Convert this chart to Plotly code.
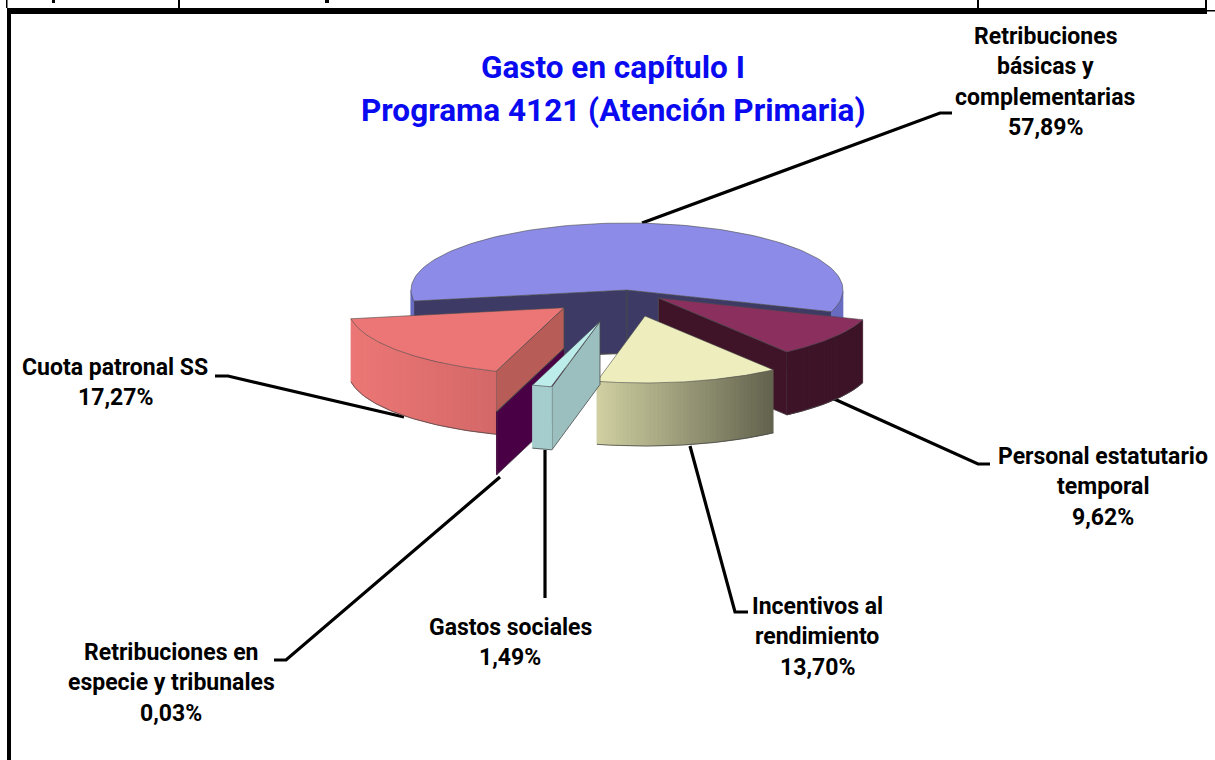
import numpy as np
import plotly.graph_objects as go

# ---- data ----
slice_names = [["Retribuciones", "básicas y", "complementarias"], ["Personal estatutario", "temporal"],
               ["Incentivos al", "rendimiento"], ["Gastos sociales"],
               ["Retribuciones en", "especie y tribunales"], ["Cuota patronal SS"]]
slice_values = [57.89, 9.62, 13.70, 1.49, 0.03, 17.27]
title_lines = ["Gasto en capítulo I", "Programa 4121 (Atención Primaria)"]

# ---- styling ----
apexes = [(627, 290), (658.5, 298), (645, 316), (600, 321.5), (564.4, 348), (564, 307.7)]
top_colors = ["#8C8CE8", "#8B2F5E", "#EDEDBD", "#BDEDEA", "#4A0045", "#EC7575"]
cut_colors = ["#3D3B66", "#3F1428", "#6E6E58", "#9BBFBF", "#4A0045", "#B85C58"]
wall_left = [(105, 110, 195), (62, 20, 40), (208, 208, 162), (165, 205, 205), (74, 0, 69), (236, 120, 118)]
wall_right = [(105, 110, 195), (62, 20, 40), (98, 98, 78), (165, 205, 205), (74, 0, 69), (212, 104, 104)]
paint_order = [0, 1, 5, 4, 2, 3]
label_x = [1045, 1103, 817, 510, 171, 115]
label_first_y = [36, 456, 606, 627, 652, 367]
LABEL_STEP = 30.5
title_y = [67, 110]
title_x = 613
leaders = [[(642, 223), (940, 113), (952, 113)],
           [(832, 398), (978, 464), (990, 464)],
           [(690, 446), (735, 612), (748, 612)],
           [(545, 450), (545, 598)],
           [(500, 477), (286, 660), (274, 660)],
           [(404, 417), (228, 376), (215, 376)]]
RX, RY, DEPTH = 216, 67, 63
START_DEG = 189.5
FONT = "Roboto, Liberation Sans, Arial, sans-serif"

fig = go.Figure()


def poly(xs, ys, fill, line=None, width=0.8):
    fig.add_trace(go.Scatter(x=xs, y=ys, mode="lines", fill="toself", fillcolor=fill,
                             line=dict(color=line or fill, width=width),
                             hoverinfo="skip", showlegend=False))


def rgb(c):
    return "rgb(%d,%d,%d)" % tuple(int(round(v)) for v in c)


for pts in leaders:
    fig.add_trace(go.Scatter(x=[p[0] for p in pts], y=[p[1] for p in pts], mode="lines",
                             line=dict(color="#000000", width=3.2), hoverinfo="skip", showlegend=False))

# slice angle ranges, clockwise from START_DEG
edges = START_DEG - np.cumsum([0] + [v * 3.6 for v in slice_values])
EDGE = "#4a4a4a"

for i in paint_order:
    a0, a1 = np.radians(edges[i]), np.radians(edges[i + 1])
    cx, cy = apexes[i]
    rim = lambda t: (cx + RX * np.cos(t), cy - RY * np.sin(t))
    # cut faces turned to the viewer
    for t, visible in ((a0, np.cos(a0) < 0), (a1, np.cos(a1) > 0)):
        if visible:
            x, y = rim(t)
            poly([cx, x, x, cx, cx], [cy, y, y + DEPTH, cy + DEPTH, cy], cut_colors[i], EDGE)
    # outer wall, shaded strip by strip (each strip overlaps the next to avoid seams)
    n = max(2, int(np.degrees(a0 - a1) / 1))
    ang = np.linspace(a0, a1, n + 1)
    x_all, _ = rim(ang)
    front = np.sin(ang) < 0.001
    xmin, xmax = (x_all[front].min(), x_all[front].max()) if front.any() else (0, 1)
    for k in range(n):
        if np.sin(ang[k]) < 0.001 and np.sin(ang[k + 1]) < 0.001:
            x0, y0 = rim(ang[k])
            x1, y1 = rim(ang[min(k + 2, n)])
            xm = rim(ang[k + 1])[0]
            f = ((x0 + xm) / 2 - xmin) / max(xmax - xmin, 1e-6)
            c = rgb(np.array(wall_left[i]) * (1 - f) + np.array(wall_right[i]) * f)
            poly([x0, x1, x1, x0, x0], [y0, y1, y1 + DEPTH, y0 + DEPTH, y0], c, width=0.3)
    # wall bottom outline
    if front.any():
        xb, yb = rim(ang[front])
        fig.add_trace(go.Scatter(x=xb, y=yb + DEPTH, mode="lines", line=dict(color=EDGE, width=0.8),
                                 hoverinfo="skip", showlegend=False))
    # top
    xt, yt = rim(np.linspace(a0, a1, 120))
    poly(np.r_[cx, xt, cx], np.r_[cy, yt, cy], top_colors[i], EDGE, 0.6)


def text(x, y, s, size, color):
    fig.add_annotation(x=x, y=y, xref="x", yref="y", text="<b>" + s + "</b>", showarrow=False,
                       xanchor="center", yanchor="middle",
                       font=dict(family=FONT, size=size, color=color))


# labels
for name, val, lx, ly in zip(slice_names, slice_values, label_x, label_first_y):
    lines = name + [f"{val:.2f}".replace(".", ",") + "%"]
    for k, s in enumerate(lines):
        text(lx, ly + k * LABEL_STEP, s, 23, "#000000")
for s, y in zip(title_lines, title_y):
    text(title_x, y, s, 31.5, "#0A0AF0")

frame = [(7, 8, 1207, 14), (7, 8, 11, 760), (6, 0, 7.5, 8), (178, 0, 180, 8), (977, 0, 979, 8),
         (1205, 0, 1207, 8), (1207, 10, 1215, 11.5), (52, 0, 55, 3), (325, 0, 329, 3)]
shapes = [dict(type="rect", xref="x", yref="y", x0=a, y0=b, x1=c, y1=d, fillcolor="#000000",
               line=dict(width=0)) for a, b, c, d in frame]

fig.update_layout(width=1215, height=760, margin=dict(l=0, r=0, t=0, b=0), autosize=False,
                  paper_bgcolor="#FFFFFF", plot_bgcolor="#FFFFFF", showlegend=False, shapes=shapes,
                  xaxis=dict(range=[0, 1215], visible=False, fixedrange=True),
                  yaxis=dict(range=[760, 0], visible=False, fixedrange=True))
fig.write_html("out.html", config=dict(displayModeBar=False),
               post_script="document.body.style.margin='0';document.body.style.overflow='hidden';")
